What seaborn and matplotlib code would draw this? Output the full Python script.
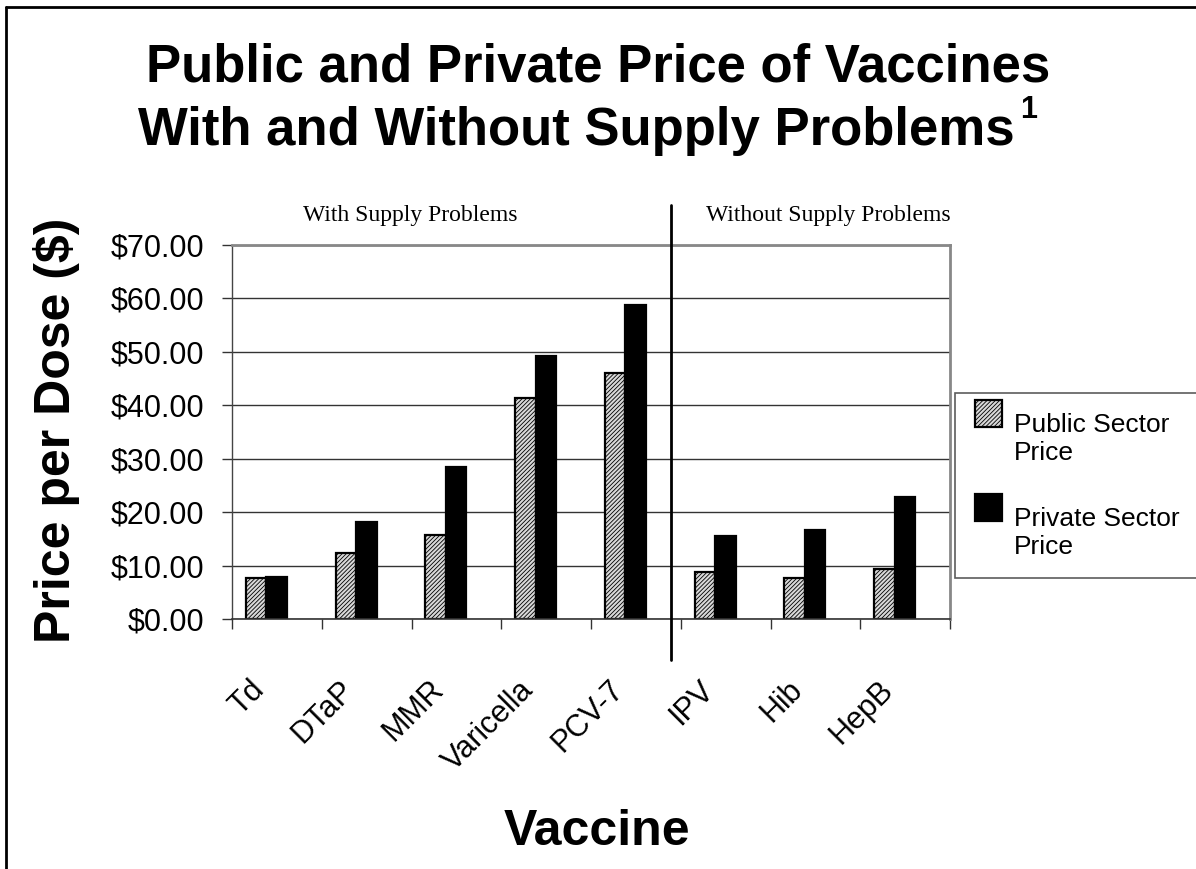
import pandas as pd
import matplotlib
matplotlib.use("Agg")
import matplotlib.pyplot as plt
import matplotlib.patches as mpatches
import matplotlib.transforms as mtransforms
from matplotlib.legend_handler import HandlerPatch
import seaborn as sns

# === Data ===
vaccines = ["Td", "DTaP", "MMR", "Varicella", "PCV-7", "IPV", "Hib", "HepB"]
public_price = [7.70, 12.35, 15.65, 41.45, 46.00, 8.80, 7.60, 9.40]
private_price = [7.90, 18.10, 28.40, 49.25, 58.85, 15.50, 16.75, 22.90]
series_names = ["Public Sector\nPrice", "Private Sector\nPrice"]
y_ticks = [0, 10, 20, 30, 40, 50, 60, 70]

df = pd.DataFrame({
    "Vaccine": vaccines * 2,
    "Sector": [series_names[0]] * len(vaccines) + [series_names[1]] * len(vaccines),
    "Price": public_price + private_price,
})

sns.set_style("white")
plt.rcParams["font.family"] = ["Liberation Sans", "DejaVu Sans"]
plt.rcParams["hatch.linewidth"] = 0.6
for key in ["text.color", "axes.labelcolor", "xtick.color", "ytick.color"]:
    plt.rcParams[key] = "black"

W, H = 1196, 869
fig = plt.figure(figsize=(W / 100, H / 100), dpi=100)
ax = fig.add_axes([232 / W, 1 - 619 / H, (950 - 232) / W, (619 - 245) / H])

pub_face = "#d8d8d8"
pal = {series_names[0]: pub_face, series_names[1]: "black"}
sns.barplot(data=df, x="Vaccine", y="Price", hue="Sector", hue_order=series_names,
            order=vaccines, palette=pal, width=0.457, gap=0, edgecolor="black",
            linewidth=1.6, saturation=1, legend=False, ax=ax)

# hatch the public bars
for bar in ax.containers[0]:
    bar.set_hatch("////////")

# === axes ===
off = 0.117
ax.set_xlim(-0.5 + off, len(vaccines) - 0.5 + off)
ax.set_ylim(0, 70)
ax.set_yticks(y_ticks)
ax.set_yticklabels([f"${v:.2f}" for v in y_ticks])
ax.tick_params(axis="y", direction="out", length=7, width=1, color="#333333",
               labelsize=22, pad=13, left=True)
ax.set_xticks(range(len(vaccines)))
ax.set_xticklabels(vaccines, rotation=45, ha="right", va="top", rotation_mode="anchor")
ax.tick_params(axis="x", which="major", length=0, labelsize=22, pad=38)
shift = mtransforms.ScaledTranslation(-17 / 100, -3 / 100, fig.dpi_scale_trans)
for lab in ax.get_xticklabels():
    lab.set_transform(lab.get_transform() + shift)
ax.set_xticks([k - 0.5 + off for k in range(len(vaccines) + 1)], minor=True)
ax.tick_params(axis="x", which="minor", direction="out", length=7, width=1,
               color="#333333", bottom=True)
ax.set_xlabel("")
ax.set_ylabel("")
ax.grid(axis="y", color="#333333", linewidth=1)
ax.set_axisbelow(True)
for side in ["top", "right"]:
    ax.spines[side].set_color("#888888")
    ax.spines[side].set_linewidth(2)
ax.spines["left"].set_color("#444444")
ax.spines["left"].set_linewidth(1)
ax.spines["bottom"].set_color("#333333")
ax.spines["bottom"].set_linewidth(1.2)

# === titles and labels ===
fig.text(0.5, 1 - 68 / H, "Public and Private Price of Vaccines", ha="center", va="center",
         fontsize=38, fontweight="bold")
fig.text(576 / W, 1 - 131 / H, "With and Without Supply Problems", ha="center",
         va="center", fontsize=38, fontweight="bold")
fig.text(1020 / W, 1 - 110 / H, "1", ha="left", va="center", fontsize=22, fontweight="bold")
fig.text(57 / W, 1 - 430 / H, "Price per Dose ($)", rotation=90, ha="center", va="center",
         fontsize=36, fontweight="bold")
fig.text(597 / W, 1 - 845 / H, "Vaccine", ha="center", va="baseline",
         fontsize=36, fontweight="bold")
fig.text(410 / W, 1 - 215 / H, "With Supply Problems", ha="center", va="center",
         fontsize=17, family=["Liberation Serif", "DejaVu Serif"])
fig.text(828 / W, 1 - 215 / H, "Without Supply Problems", ha="center", va="center",
         fontsize=17, family=["Liberation Serif", "DejaVu Serif"])

# divider between groups
fig.add_artist(plt.Line2D([671 / W, 671 / W], [1 - 205 / H, 1 - 660 / H],
                          color="black", linewidth=2))

# figure frame (top and left edges)
fig.add_artist(plt.Line2D([6 / W, 6 / W], [0, 1 - 7 / H], color="black", linewidth=2))
fig.add_artist(plt.Line2D([6 / W, 1], [1 - 7 / H, 1 - 7 / H], color="black", linewidth=2))

# === legend ===
def top_patch(legend, orig_handle, xdescent, ydescent, width, height, fontsize):
    s = 1.02 * fontsize
    return mpatches.Rectangle((0, 1.83 * fontsize - s), s, s)

handles = [
    mpatches.Rectangle((0, 0), 1, 1, facecolor=pub_face, edgecolor="black", hatch="////////",
                       linewidth=1.6),
    mpatches.Rectangle((0, 0), 1, 1, facecolor="black", edgecolor="black", linewidth=1.6),
]
leg = fig.legend(handles, series_names, loc="upper left",
                 bbox_to_anchor=(955 / W, 1 - 393 / H), fontsize=19, frameon=True,
                 fancybox=False, edgecolor="#333333", handlelength=1.02,
                 handletextpad=0.45, borderpad=0.75, labelspacing=1.6, borderaxespad=0,
                 handler_map={mpatches.Rectangle: HandlerPatch(patch_func=top_patch)})
leg.get_frame().set_linewidth(1.2)

fig.savefig("out.png", dpi=100)
